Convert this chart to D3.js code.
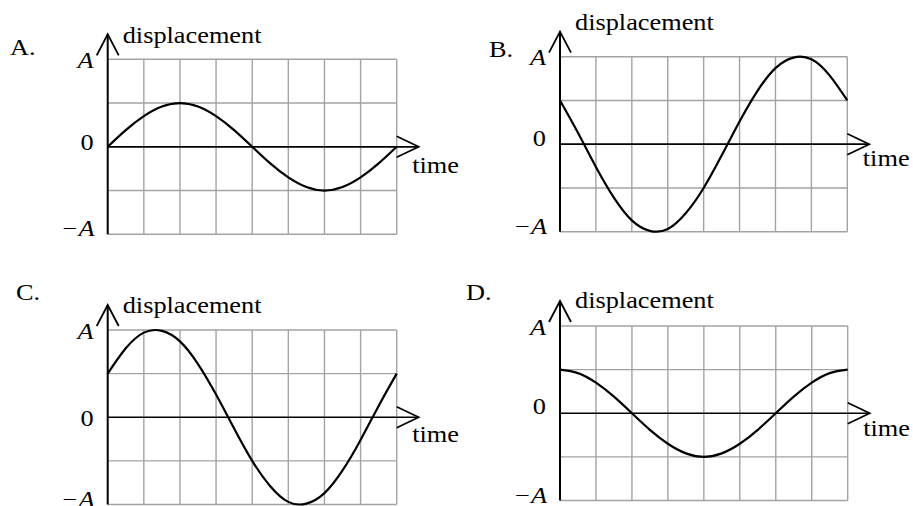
<!doctype html>
<html lang="en">

<head>
  <meta charset="utf-8">
  <title>Displacement-time graphs</title>
  <style>
    body { margin: 0; background: #fff; }
    svg text { font-family: "Liberation Serif", "Times New Roman", serif; font-size: 22.5px; fill: #000; }
  </style>
</head>

<body>
  <div id="chart"></div>

  <script src="https://d3js.org/d3.v7.min.js"></script>
  <script>
    // Data ----------------------------------------------------------------------
    const panelLabels = ["A.", "B.", "C.", "D."];
    const yAxisTitle = "displacement";
    const xAxisTitle = "time";
    const yTickLabels = ["A", "0", "\u2212A"];   // +A, 0, -A
    const yTickValues = [1, 0, -1];

    // time in grid columns (8 columns), read every half column
    const timeSteps = [0, 0.5, 1, 1.5, 2, 2.5, 3, 3.5, 4, 4.5, 5, 5.5, 6, 6.5, 7, 7.5, 8];

    // displacement as a fraction of A (one grid row = A/2)
    const dispA = [0, 0.19, 0.35, 0.46, 0.5, 0.46, 0.35, 0.19, 0, -0.19, -0.35, -0.46, -0.5, -0.46, -0.35, -0.19, 0];
    const dispB = [0.5, 0.13, -0.26, -0.61, -0.87, -0.99, -0.97, -0.79, -0.5, -0.13, 0.26, 0.61, 0.87, 0.99, 0.97, 0.79, 0.5];
    const dispC = [0.5, 0.79, 0.97, 0.99, 0.87, 0.61, 0.26, -0.13, -0.5, -0.79, -0.97, -0.99, -0.87, -0.61, -0.26, 0.13, 0.5];
    const dispD = [0.5, 0.46, 0.35, 0.19, 0, -0.19, -0.35, -0.46, -0.5, -0.46, -0.35, -0.19, 0, 0.19, 0.35, 0.46, 0.5];
    const series = [dispA, dispB, dispC, dispD];

    // Layout --------------------------------------------------------------------
    const width = 913;
    const height = 506;
    const stretch = 1.17; // glyphs in the picture are wider than tall

    const panels = [
      { left: 107.7, top: 59.3, right: 396.7, bottom: 234.3, label: [10, 55], title: [122.7, 42.5], zeroDy: 3, timeDy: 26 },
      { left: 560, top: 56.7, right: 847.3, bottom: 231.7, label: [489, 57], title: [575, 30], zeroDy: 2, timeDy: 22 },
      { left: 107.7, top: 330, right: 396.7, bottom: 504.5, label: [16, 300], title: [122.7, 313], zeroDy: 8.5, timeDy: 25 },
      { left: 560, top: 326, right: 847.7, bottom: 500.5, label: [466, 300], title: [575, 308], zeroDy: 1, timeDy: 23 }
    ];

    const svg = d3.select("#chart")
      .append("svg")
      .attr("width", width)
      .attr("height", height)
      .attr("viewBox", [0, 0, width, height]);

    function addText(g, str, x, y, anchor, italic) {
      return g.append("text")
        .attr("transform", `translate(${x},${y}) scale(${stretch},1)`)
        .attr("text-anchor", anchor || "start")
        .style("font-style", italic ? "italic" : "normal")
        .text(str);
    }

    // Render each panel ---------------------------------------------------------
    panels.forEach((p, i) => {
      const g = svg.append("g");

      const x = d3.scaleLinear()
        .domain([0, 8])
        .range([p.left, p.right]);

      const y = d3.scaleLinear()
        .domain([-1, 1])
        .range([p.bottom, p.top]);

      // grid
      g.append("g")
        .selectAll("line")
        .data(d3.range(1, 9))
        .join("line")
        .attr("x1", d => x(d))
        .attr("x2", d => x(d))
        .attr("y1", y(-1))
        .attr("y2", y(1))
        .attr("stroke", "#a3a3a3")
        .attr("stroke-width", 1.4);

      g.append("g")
        .selectAll("line")
        .data([-1, -0.5, 0.5, 1])
        .join("line")
        .attr("x1", x(0))
        .attr("x2", x(8))
        .attr("y1", d => y(d))
        .attr("y2", d => y(d))
        .attr("stroke", "#a3a3a3")
        .attr("stroke-width", 1.4);

      // time axis with open arrow
      const tipX = x(8) + 22;
      g.append("line")
        .attr("x1", x(0))
        .attr("x2", tipX)
        .attr("y1", y(0))
        .attr("y2", y(0))
        .attr("stroke", "#000")
        .attr("stroke-width", 1.7);

      g.append("path")
        .attr("d", `M${tipX - 22},${y(0) - 10.5}L${tipX},${y(0)}L${tipX - 22},${y(0) + 10.5}`)
        .attr("fill", "none")
        .attr("stroke", "#000")
        .attr("stroke-width", 1.7);

      // displacement axis with open arrow
      const tipY = y(1) - 25;
      g.append("line")
        .attr("x1", x(0))
        .attr("x2", x(0))
        .attr("y1", y(-1))
        .attr("y2", tipY)
        .attr("stroke", "#000")
        .attr("stroke-width", 2);

      g.append("path")
        .attr("d", `M${x(0) - 11},${tipY + 21}L${x(0)},${tipY}L${x(0) + 11},${tipY + 21}`)
        .attr("fill", "none")
        .attr("stroke", "#000")
        .attr("stroke-width", 1.8);

      // curve
      const line = d3.line()
        .x((d, j) => x(timeSteps[j]))
        .y(d => y(d))
        .curve(d3.curveNatural);

      g.append("path")
        .datum(series[i])
        .attr("d", line)
        .attr("fill", "none")
        .attr("stroke", "#000")
        .attr("stroke-width", 2.2);

      // text
      addText(g, panelLabels[i], p.label[0], p.label[1]);
      addText(g, yAxisTitle, p.title[0], p.title[1]);
      addText(g, xAxisTitle, x(8) + 15.5, y(0) + p.timeDy);

      addText(g, yTickLabels[0], x(0) - 14, y(yTickValues[0]) + 8.5, "end", true);
      addText(g, yTickLabels[1], x(0) - 14, y(yTickValues[1]) + p.zeroDy, "end");
      addText(g, yTickLabels[2], x(0) - 13, y(yTickValues[2]) + 2, "end", true);
    });
  </script>

</body>

</html>
